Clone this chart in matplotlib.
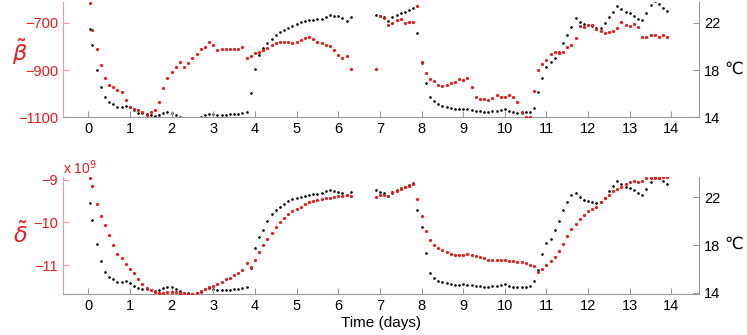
#!/usr/bin/env python3
"""
Beta / delta estimates against room temperature over two weeks.
"""

import numpy as np
import matplotlib
matplotlib.use('Agg')
import matplotlib.pyplot as plt

plt.rcParams['font.family'] = ['Liberation Sans', 'DejaVu Sans']

# time grid (days); gap between 6.3 and 6.9
days = np.concatenate([[0.05], np.round(np.arange(0.1, 6.35, 0.1), 1),
                       np.round(np.arange(6.9, 13.95, 0.1), 1)])

beta = [-615, -730, -813, -879, -935, -963, -973, -984, -991, -1027,
        -1055, -1066, -1069, -1076, -1090, -1076, -1069, -1034, -977, -935,
        -907, -886, -865, -886, -872, -851, -832, -813, -801, -780,
        -794, -815, -813, -811, -813, -811, -813, -801, -851, -841,
        -830, -823, -815, -808, -794, -784, -783, -780, -780, -784,
        -780, -773, -766, -762, -770, -780, -784, -794, -799, -815,
        -837, -851, -841, -895,
        -897, -672, -682, -710, -700, -689, -686, -700, -696, -696,
        -630, -865, -914, -939, -945, -963, -968, -963, -953, -949,
        -939, -942, -935, -970, -1013, -1024, -1024, -1027, -1020, -1006,
        -1013, -1013, -1006, -1013, -1034, -1076, -1100, -1097, -987, -900,
        -876, -858, -832, -823, -830, -823, -804, -794, -765, -714,
        -717, -710, -710, -727, -735, -742, -738, -735, -724, -699,
        -710, -714, -706, -720, -759, -762, -752, -754, -759, -754, -762]

temp_top = [21.44, 20.11, 18.0, 16.59, 15.69, 15.32, 15.13, 14.90, 14.90, 14.96,
            14.85, 14.62, 14.39, 14.34, 14.28, 14.20, 14.11, 14.20, 14.34, 14.45,
            14.34, 14.20, 14.06, 13.92, 13.89, 13.89, 13.94, 14.06, 14.20, 14.28,
            14.25, 14.20, 14.20, 14.23, 14.25, 14.28, 14.31, 14.39, 14.48, 16.03,
            18.06, 19.27, 19.83, 20.31, 20.59, 20.96, 21.18, 21.38, 21.55, 21.72,
            21.89, 22.03, 22.17, 22.23, 22.25, 22.28, 22.34, 22.51, 22.65, 22.59,
            22.54, 22.37, 22.17, 22.51,
            22.68, 22.56, 22.45, 22.17, 22.45, 22.65, 22.79, 22.93, 23.07, 23.21,
            21.10, 18.56, 16.87, 15.75, 15.35, 15.10, 14.96, 14.87, 14.76, 14.70,
            14.68, 14.70, 14.70, 14.62, 14.56, 14.51, 14.45, 14.48, 14.51, 14.56,
            14.62, 14.73, 14.56, 14.45, 14.39, 14.39, 14.42, 14.45, 14.76, 16.17,
            17.30, 18.28, 18.65, 18.99, 19.55, 20.25, 20.96, 21.66, 22.37, 22.03,
            21.86, 21.80, 21.72, 21.52, 21.52, 22.0, 22.51, 22.93, 23.44, 23.13,
            22.93, 22.85, 22.56, 22.28, 22.23, 22.85, 23.49, 23.80, 23.58, 23.24, 23.01]

# delta in units of 1e9
delta = [-8.96, -9.14, -9.57, -9.84, -10.07, -10.30, -10.53, -10.73, -10.84, -10.96,
         -11.08, -11.19, -11.33, -11.44, -11.53, -11.58, -11.62, -11.64, -11.64, -11.63,
         -11.62, -11.63, -11.64, -11.66, -11.67, -11.67, -11.64, -11.60, -11.55, -11.52,
         -11.49, -11.44, -11.39, -11.33, -11.29, -11.23, -11.19, -11.12, -10.95, -11.05,
         -10.87, -10.69, -10.53, -10.38, -10.25, -10.11, -9.99, -9.89, -9.81, -9.74,
         -9.68, -9.63, -9.57, -9.53, -9.49, -9.47, -9.45, -9.43, -9.43, -9.40,
         -9.37, -9.37, -9.36, -9.37,
         -9.40, -9.35, -9.36, -9.37, -9.29, -9.26, -9.22, -9.18, -9.14, -9.10,
         -9.45, -9.84, -10.19, -10.42, -10.53, -10.59, -10.64, -10.69, -10.73, -10.75,
         -10.77, -10.75, -10.74, -10.77, -10.78, -10.81, -10.84, -10.87, -10.88, -10.88,
         -10.88, -10.88, -10.90, -10.91, -10.92, -10.92, -10.94, -11.00, -11.02, -11.16,
         -11.10, -11.00, -10.90, -10.81, -10.67, -10.50, -10.31, -10.15, -10.03, -9.91,
         -9.82, -9.74, -9.69, -9.63, -9.52, -9.43, -9.35, -9.27, -9.22, -9.16,
         -9.10, -9.05, -9.04, -9.05, -9.02, -8.95, -8.95, -8.95, -8.96, -8.94, -8.93]

temp_bot = [21.50, 20.10, 18.06, 16.69, 15.76, 15.34, 15.12, 14.90, 14.90, 14.98,
            14.84, 14.56, 14.39, 14.34, 14.28, 14.22, 14.14, 14.22, 14.39, 14.50,
            14.45, 14.28, 14.11, 14.00, 13.94, 13.89, 13.94, 14.08, 14.28, 14.36,
            14.34, 14.22, 14.20, 14.22, 14.25, 14.28, 14.34, 14.42, 14.50, 16.04,
            17.72, 18.64, 19.26, 20.01, 20.57, 20.94, 21.22, 21.47, 21.66, 21.83,
            21.92, 22.03, 22.14, 22.22, 22.25, 22.28, 22.34, 22.50, 22.62, 22.56,
            22.48, 22.36, 22.17, 22.48,
            22.62, 22.48, 22.34, 22.11, 22.39, 22.62, 22.76, 22.90, 23.03, 23.23,
            20.94, 19.54, 17.30, 15.62, 15.20, 15.01, 14.90, 14.78, 14.73, 14.67,
            14.67, 14.73, 14.67, 14.62, 14.56, 14.53, 14.50, 14.50, 14.53, 14.56,
            14.62, 14.70, 14.56, 14.45, 14.45, 14.48, 14.50, 14.56, 15.01, 15.90,
            17.24, 18.14, 18.53, 19.26, 20.04, 20.94, 21.64, 22.20, 22.36, 22.00,
            21.80, 21.69, 21.61, 21.50, 21.58, 21.94, 22.50, 22.95, 23.40, 23.09,
            22.90, 22.78, 22.64, 22.34, 22.17, 22.67, 23.26, 23.68, 23.65, 23.37, 23.09]

RED = '#f01818'
SPINE_RED = '#f09a9a'
GRAY = '#999999'

fig = plt.figure(figsize=(7.47, 3.35), dpi=100)
ax_top = fig.add_axes([0.0843, 0.6499, 0.8514, 0.344])
ax_bot = fig.add_axes([0.0843, 0.1215, 0.8514, 0.351])


def style_pair(ax, ax_r):
    for a in (ax, ax_r):
        a.spines['top'].set_visible(False)
        a.set_facecolor('none')
    ax.spines['right'].set_visible(False)
    ax_r.spines['left'].set_visible(False)
    ax_r.spines['bottom'].set_visible(False)
    ax.spines['left'].set_color(SPINE_RED)
    ax.spines['bottom'].set_color(GRAY)
    ax_r.spines['right'].set_color(GRAY)
    ax.tick_params(axis='y', direction='in', length=4, colors=RED,
                   labelsize=10.5, color=SPINE_RED)
    ax.tick_params(axis='x', direction='in', length=4, color=GRAY,
                   labelcolor='black', labelsize=10.5)
    ax_r.tick_params(axis='y', direction='in', length=4, color=GRAY,
                     labelcolor='black', labelsize=10.5)
    ax.set_xlim(-0.607, 14.66)
    ax.set_xticks(range(0, 15))


# top panel
ax_top_r = ax_top.twinx()
ax_top_r.plot(days, temp_top, 'o', color='black', markersize=1.9,
              markeredgewidth=0, zorder=2)
ax_top.plot(days, beta, 'o', color=RED, markersize=2.3,
            markeredgewidth=0, zorder=3)
ax_top.set_zorder(ax_top_r.get_zorder() + 1)
style_pair(ax_top, ax_top_r)
ax_top.set_ylim(-1100, -612.5)
ax_top.set_yticks([-1100, -900, -700])
ax_top_r.set_ylim(14, 23.75)
ax_top_r.set_yticks([14, 18, 22])

# bottom panel
ax_bot_r = ax_bot.twinx()
ax_bot_r.plot(days, temp_bot, 'o', color='black', markersize=1.9,
              markeredgewidth=0, zorder=2)
ax_bot.plot(days, delta, 'o', color=RED, markersize=2.3,
            markeredgewidth=0, zorder=3)
ax_bot.set_zorder(ax_bot_r.get_zorder() + 1)
style_pair(ax_bot, ax_bot_r)
ax_bot.set_ylim(-11.68, -8.93)
ax_bot.set_yticks([-11, -10, -9])
ax_bot_r.set_ylim(13.87, 23.73)
ax_bot_r.set_yticks([14, 18, 22])
ax_bot.set_xlabel('Time (days)', fontsize=11, labelpad=2)

# axis labels
fig.text(0.027, 0.845, r'$\tilde{\beta}$', color=RED, fontsize=16,
         ha='center', va='center')
fig.text(0.027, 0.300, r'$\tilde{\delta}$', color=RED, fontsize=16,
         ha='center', va='center')
fig.text(0.982, 0.793, '℃', fontsize=12, ha='center', va='center')
fig.text(0.982, 0.270, '℃', fontsize=12, ha='center', va='center')
fig.text(0.0843, 0.500, r'x 10$^{9}$', color=RED, fontsize=10,
         ha='left', va='center')

plt.savefig('out.png', dpi=100)
print("Saved out.png")
